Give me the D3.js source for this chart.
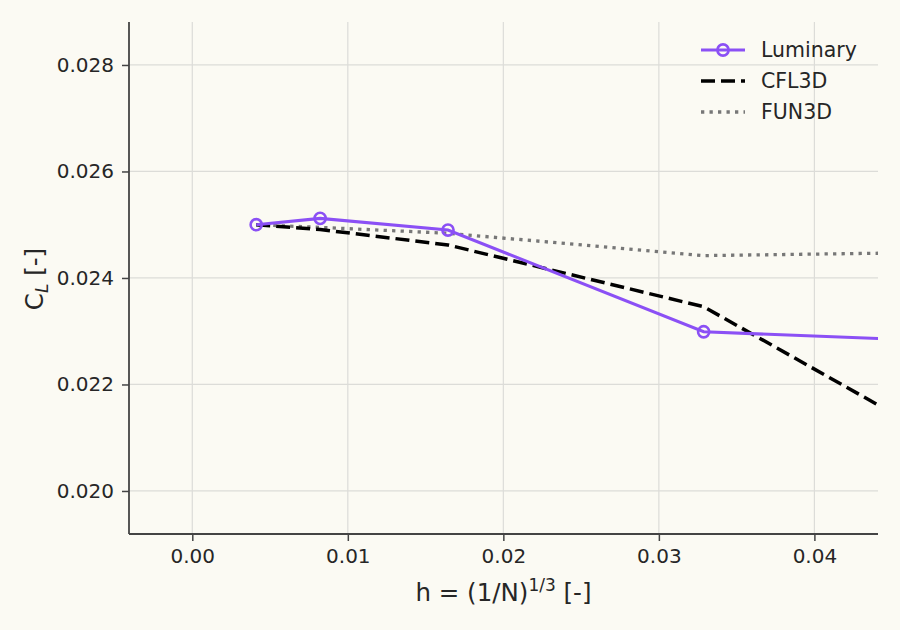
<!DOCTYPE html>
<html><head><meta charset="utf-8">
<script src="https://cdn.jsdelivr.net/npm/d3@7"></script>
<style>
html,body{margin:0;padding:0;background:#fbfaf3;}
svg{display:block;font-family:"DejaVu Sans",sans-serif;}
</style></head>
<body>
<svg id="chart" width="900" height="630"></svg>
<script>
// ---- data ----
const hValues = [0.00411, 0.00822, 0.01644, 0.03288, 0.06576];
const luminaryCL = [0.02500, 0.02512, 0.02490, 0.02299, 0.02262];
const cfl3dCL = [0.02500, 0.02491, 0.02462, 0.02346, 0.01805];
const fun3dCL = [0.02500, 0.02495, 0.02484, 0.02442, 0.02455];
const xTicks = [0.00, 0.01, 0.02, 0.03, 0.04];
const yTicks = [0.020, 0.022, 0.024, 0.026, 0.028];
const seriesNames = ["Luminary", "CFL3D", "FUN3D"];

const W = 900, H = 630;
const m = {left: 129, right: 878, top: 22, bottom: 534};
const svg = d3.select("#chart");
svg.append("rect").attr("width", W).attr("height", H).attr("fill", "#fbfaf3");

const x = d3.scaleLinear().domain([-0.00407, 0.04409]).range([m.left, m.right]);
const y = d3.scaleLinear().domain([0.019192, 0.028807]).range([m.bottom, m.top]);

// grid
const grid = svg.append("g");
grid.selectAll(".gx").data(xTicks).enter().append("line")
  .attr("x1", d => x(d)).attr("x2", d => x(d)).attr("y1", m.top).attr("y2", m.bottom)
  .attr("stroke", "#dcdcd8").attr("stroke-width", 1.2);
grid.selectAll(".gy").data(yTicks).enter().append("line")
  .attr("y1", d => y(d)).attr("y2", d => y(d)).attr("x1", m.left).attr("x2", m.right)
  .attr("stroke", "#dcdcd8").attr("stroke-width", 1.2);

// clip
svg.append("clipPath").attr("id", "clip").append("rect")
  .attr("x", m.left).attr("y", m.top).attr("width", m.right - m.left).attr("height", m.bottom - m.top);

const plot = svg.append("g").attr("clip-path", "url(#clip)");
const line = d3.line().x(d => x(d[0])).y(d => y(d[1]));
const zip = arr => hValues.map((h, i) => [h, arr[i]]);

plot.append("path").datum(zip(fun3dCL)).attr("d", line)
  .attr("fill", "none").attr("stroke", "#777777").attr("stroke-width", 3.3)
  .attr("stroke-dasharray", "3.3,5.2");
plot.append("path").datum(zip(cfl3dCL)).attr("d", line)
  .attr("fill", "none").attr("stroke", "#000").attr("stroke-width", 3.5)
  .attr("stroke-dasharray", "14,6");
plot.append("path").datum(zip(luminaryCL)).attr("d", line)
  .attr("fill", "none").attr("stroke", "#8b50f5").attr("stroke-width", 3.1);
plot.selectAll(".mk").data(zip(luminaryCL)).enter().append("circle")
  .attr("cx", d => x(d[0])).attr("cy", d => y(d[1])).attr("r", 5.6)
  .attr("fill", "none").attr("stroke", "#8b50f5").attr("stroke-width", 2.6);

// axes
const xAxis = d3.axisBottom(x).tickValues(xTicks).tickFormat(d3.format(".2f")).tickSize(7).tickPadding(8);
const yAxis = d3.axisLeft(y).tickValues(yTicks).tickFormat(d3.format(".3f")).tickSize(7).tickPadding(8);
const gx = svg.append("g").attr("transform", `translate(0,${m.bottom})`).call(xAxis);
const gy = svg.append("g").attr("transform", `translate(${m.left},0)`).call(yAxis);
[gx, gy].forEach(g => {
  g.select(".domain").attr("stroke", "#444").attr("stroke-width", 1.8);
  g.selectAll(".tick line").attr("stroke", "#444").attr("stroke-width", 1.5);
  g.selectAll(".tick text").attr("fill", "#262626").style("font-size", "20px")
    .style("font-family", "DejaVu Sans");
});
gx.select(".domain").attr("d", `M${m.left},0H${m.right}`);
gy.select(".domain").attr("d", `M0,${m.top}V${m.bottom}`);

// axis labels
const xl = svg.append("text").attr("x", (m.left + m.right) / 2).attr("y", 601)
  .attr("text-anchor", "middle").attr("fill", "#262626").style("font-size", "24.5px");
xl.append("tspan").text("h = (1/N)");
xl.append("tspan").attr("dy", -10).style("font-size", "17px").text("1/3");
xl.append("tspan").attr("dy", 10).text(" [-]");

const yl = svg.append("text").attr("transform", `translate(43,${(m.top + m.bottom) / 2 + 1}) rotate(-90)`)
  .attr("text-anchor", "middle").attr("fill", "#262626").style("font-size", "24.5px");
yl.append("tspan").text("C");
yl.append("tspan").attr("dy", 5).style("font-size", "17px").style("font-style", "italic").text("L");
yl.append("tspan").attr("dy", -5).text(" [-]");

// legend
const styles = [
  {stroke: "#8b50f5", dash: null, w: 3.1, marker: true},
  {stroke: "#000", dash: "14,6", w: 3.5, marker: false},
  {stroke: "#777777", dash: "3.3,5.2", w: 3.3, marker: false}
];
const leg = svg.append("g");
seriesNames.forEach((name, i) => {
  const cy = 50 + i * 31;
  const s = styles[i];
  const l = leg.append("line").attr("x1", 701).attr("x2", 745).attr("y1", cy).attr("y2", cy)
    .attr("stroke", s.stroke).attr("stroke-width", s.w);
  if (s.dash) l.attr("stroke-dasharray", s.dash);
  if (s.marker) leg.append("circle").attr("cx", 723).attr("cy", cy).attr("r", 5.6)
    .attr("fill", "none").attr("stroke", s.stroke).attr("stroke-width", 2.6);
  leg.append("text").attr("x", 761).attr("y", cy).attr("dy", "0.36em")
    .attr("fill", "#262626").style("font-size", "20.5px").text(name);
});
</script>
</body></html>
